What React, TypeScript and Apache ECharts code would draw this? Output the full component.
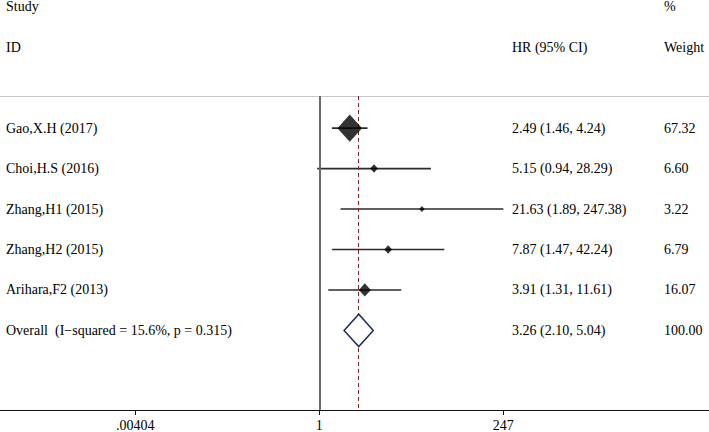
import React, { useEffect, useRef } from "react";
import * as echarts from "echarts";

const studies = ["Gao,X.H (2017)", "Choi,H.S (2016)", "Zhang,H1 (2015)", "Zhang,H2 (2015)", "Arihara,F2 (2013)"];
const hr = [2.49, 5.15, 21.63, 7.87, 3.91];
const lo = [1.46, 0.94, 1.89, 1.47, 1.31];
const hi = [4.24, 28.29, 247.38, 42.24, 11.61];
const weights = [67.32, 6.6, 3.22, 6.79, 16.07];

const overallLabel = "Overall  (I\u2212squared = 15.6%, p = 0.315)";
const overallHR = 3.26;
const overallLo = 2.1;
const overallHi = 5.04;
const overallWeight = 100.0;

const tickValues = [0.00404, 1, 247];
const tickLabels = [".00404", "1", "247"];

const FONT = "'Liberation Serif', 'Times New Roman', serif";

export default function App() {
  const ref = useRef<HTMLDivElement>(null);

  useEffect(() => {
    if (!ref.current) return;
    const chart = echarts.init(ref.current, null, { renderer: "svg" });
    const L = (v: number) => Math.log10(v);
    const n = studies.length;
    const overallRow = n;

    const tickLog = tickValues.map(L);

    type Row = { row: number; c1: string; c2: string; c3: string };
    const rows: Row[] = [
      { row: -3, c1: "Study", c2: "", c3: "%" },
      { row: -2, c1: "ID", c2: "HR (95% CI)", c3: "Weight" },
    ];
    studies.forEach((s, i) =>
      rows.push({
        row: i,
        c1: s,
        c2: `${hr[i].toFixed(2)} (${lo[i].toFixed(2)}, ${hi[i].toFixed(2)})`,
        c3: weights[i].toFixed(2),
      })
    );
    rows.push({
      row: overallRow,
      c1: overallLabel,
      c2: `${overallHR.toFixed(2)} (${overallLo.toFixed(2)}, ${overallHi.toFixed(2)})`,
      c3: overallWeight.toFixed(2),
    });

    const textStyle = (t: string, x: number, y: number) => ({
      type: "text",
      x,
      y,
      style: { text: t, fill: "#000", font: `14px ${FONT}`, textAlign: "left", textVerticalAlign: "middle" },
    });

    const option: any = {
      animation: false,
      grid: { left: 0, right: 0, top: 96, bottom: 21.5, containLabel: false },
      xAxis: [
        {
          type: "value",
          min: -4.152,
          max: 5.068,
          position: "bottom",
          axisLine: { show: true, onZero: false, lineStyle: { color: "#111", width: 1 } },
          axisTick: { show: true, customValues: tickLog, length: 5, inside: false, lineStyle: { color: "#111" } },
          axisLabel: {
            customValues: tickLog,
            margin: 8,
            color: "#000",
            fontSize: 14,
            fontFamily: FONT,
            formatter: (v: number) => {
              let best = 0;
              tickLog.forEach((t, i) => {
                if (Math.abs(t - v) < Math.abs(tickLog[best] - v)) best = i;
              });
              return tickLabels[best];
            },
          },
          splitLine: { show: false },
        },
        {
          type: "value",
          min: -4.152,
          max: 5.068,
          position: "top",
          axisLine: { show: true, onZero: false, lineStyle: { color: "#c8c8c8", width: 1 } },
          axisTick: { show: false },
          axisLabel: { show: false },
          splitLine: { show: false },
        },
      ],
      yAxis: {
        type: "value",
        inverse: true,
        min: -0.795,
        max: 6.968,
        show: false,
        splitLine: { show: false },
      },
      series: [
        {
          type: "custom",
          name: "ci",
          silent: true,
          data: studies.map((_, i) => [L(lo[i]), L(hi[i]), i]),
          encode: { x: [0, 1], y: 2 },
          renderItem: (params: any, api: any) => {
            const a = api.coord([api.value(0), api.value(2)]);
            const b = api.coord([api.value(1), api.value(2)]);
            return {
              type: "line",
              shape: { x1: a[0], y1: a[1], x2: b[0], y2: b[1] },
              style: { stroke: "#2a2a2a", lineWidth: 1.6 },
            };
          },
          markLine: {
            silent: true,
            symbol: "none",
            label: { show: false },
            data: [
              { xAxis: 0, lineStyle: { color: "#6b6b6b", width: 2, type: "solid" } },
              { xAxis: L(overallHR), lineStyle: { color: "#8b2323", width: 1, type: [4, 3] } },
            ],
          },
        },
        {
          type: "scatter",
          name: "hr",
          silent: true,
          symbol: "diamond",
          data: studies.map((_, i) => [L(hr[i]), i, weights[i]]),
          symbolSize: (v: number[]) => [3.0 * Math.sqrt(v[2]), 3.3 * Math.sqrt(v[2])],
          itemStyle: { color: "#000" },
          z: 5,
        },
        {
          type: "custom",
          name: "overall",
          silent: true,
          data: [[L(overallLo), L(overallHR), L(overallHi), overallRow]],
          encode: { x: [0, 1, 2], y: 3 },
          renderItem: (params: any, api: any) => {
            const r = api.value(3);
            const p1 = api.coord([api.value(0), r]);
            const p2 = api.coord([api.value(1), r - 0.4]);
            const p3 = api.coord([api.value(2), r]);
            const p4 = api.coord([api.value(1), r + 0.4]);
            return {
              type: "polygon",
              shape: { points: [p1, p2, p3, p4] },
              style: { fill: "#fff", stroke: "#1f2b5e", lineWidth: 1.5 },
            };
          },
          z: 6,
        },
        {
          type: "custom",
          name: "table",
          silent: true,
          clip: false,
          data: rows.map((r, i) => [0, r.row, i]),
          encode: { x: 0, y: 1 },
          renderItem: (params: any, api: any) => {
            const idx = api.value(2);
            const r = rows[idx];
            const y = api.coord([0, api.value(1)])[1];
            const children: any[] = [textStyle(r.c1, 6, y)];
            if (r.c2) children.push(textStyle(r.c2, 512, y));
            if (r.c3) children.push(textStyle(r.c3, 664, y));
            return { type: "group", children };
          },
          z: 10,
        },
      ],
    };
    chart.setOption(option);
    return () => chart.dispose();
  }, []);

  return (
    <div
      ref={ref}
      style={{ position: "fixed", left: 0, top: 0, width: 709, height: 432, background: "#fff" }}
    />
  );
}
